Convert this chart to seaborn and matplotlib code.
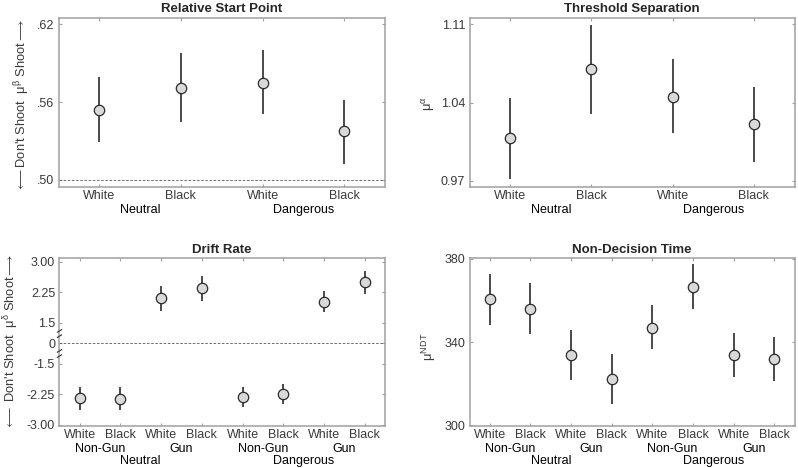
import numpy as np
import pandas as pd
import seaborn as sns
import matplotlib.pyplot as plt
import matplotlib.transforms as mtransforms
from matplotlib.path import Path

# conditions
race4 = ['White', 'Black', 'White', 'Black']
context4 = ['Neutral', 'Neutral', 'Dangerous', 'Dangerous']
race8 = ['White', 'Black'] * 4
object8 = ['Non-Gun', 'Non-Gun', 'Gun', 'Gun'] * 2
context8 = ['Neutral'] * 4 + ['Dangerous'] * 4

# relative start point (beta)
start_mean = [0.554, 0.571, 0.575, 0.538]
start_lo = [0.529, 0.545, 0.551, 0.512]
start_hi = [0.579, 0.598, 0.600, 0.562]

# threshold separation (alpha)
thresh_mean = [1.008, 1.070, 1.045, 1.021]
thresh_lo = [0.972, 1.030, 1.013, 0.987]
thresh_hi = [1.044, 1.109, 1.079, 1.054]

# drift rate (delta)
drift_mean = [-2.35, -2.36, 2.10, 2.34, -2.31, -2.24, 2.02, 2.50]
drift_lo = [-2.64, -2.64, 1.79, 2.04, -2.57, -2.50, 1.76, 2.21]
drift_hi = [-2.07, -2.07, 2.39, 2.64, -2.07, -1.99, 2.29, 2.77]

# non-decision time
ndt_mean = [360.6, 355.9, 333.7, 322.0, 346.7, 366.4, 333.7, 332.0]
ndt_lo = [348.2, 343.7, 321.8, 310.1, 336.5, 355.8, 323.0, 321.2]
ndt_hi = [372.6, 368.3, 345.8, 334.1, 357.8, 377.4, 344.2, 342.3]

start_ticks = [0.50, 0.56, 0.62]
start_ticklabels = ['.50', '.56', '.62']
thresh_ticks = [0.97, 1.04, 1.11]
thresh_ticklabels = ['0.97', '1.04', '1.11']
drift_ticks = [-3.0, -2.25, -1.5, 0, 1.5, 2.25, 3.0]
drift_ticklabels = ['-3.00', '-2.25', '-1.5', '0', '1.5', '2.25', '3.00']
ndt_ticks = [300, 340, 380]
ndt_ticklabels = ['300', '340', '380']

sns.set_theme(style='ticks')
plt.rcParams['font.family'] = ['Liberation Sans', 'DejaVu Sans']
plt.rcParams['mathtext.fontset'] = 'custom'
plt.rcParams['mathtext.rm'] = 'Liberation Sans'
plt.rcParams['mathtext.it'] = 'Liberation Sans'
plt.rcParams['mathtext.bf'] = 'Liberation Sans:bold'
plt.rcParams['mathtext.fallback'] = 'stix'

SPINE = '#a0a0a0'
TXT = '#3a3a3a'

W, H = 798, 468
fig = plt.figure(figsize=(W / 100, H / 100), dpi=100)


def px_axes(x0, y0, x1, y1):
    return fig.add_axes([x0 / W, 1 - y1 / H, (x1 - x0) / W, (y1 - y0) / H])


def drift_fwd(v):
    v = np.asarray(v, dtype=float)
    return np.where(v > 1.5, v - 1.0, np.where(v < -1.5, v + 1.0, v / 3.0))


def drift_inv(c):
    c = np.asarray(c, dtype=float)
    return np.where(c > 0.5, c + 1.0, np.where(c < -0.5, c - 1.0, c * 3.0))


def panel(ax, title, mean, lo, hi, levels, ticks, ticklabels, ylim):
    n = len(mean)
    df = pd.DataFrame({'x': np.arange(1, n + 1), 'y': mean, 'lo': lo, 'hi': hi})
    ax.vlines(df['x'], df['lo'], df['hi'], color='#2b2b2b', lw=1.2, zorder=2)
    sns.scatterplot(data=df, x='x', y='y', ax=ax, s=56, color='#d9d9d9',
                    edgecolor='#2b2b2b', linewidth=0.9, zorder=3, legend=False)
    ax.set_xlim(0.5, n + 0.5)
    ax.set_ylim(*ylim)
    ax.set_yticks(ticks)
    ax.set_yticklabels(ticklabels)
    ax.set_xticks(df['x'])
    ax.set_xticklabels(levels[0])
    ax.set_xlabel('')
    ax.set_ylabel('')
    ax.set_title(title, fontsize=9.5, fontweight='bold', pad=4)
    for s in ax.spines.values():
        s.set_visible(True)
        s.set_color(SPINE)
        s.set_linewidth(1.1)
    ax.tick_params(direction='in', length=2.5, width=0.8, color=SPINE,
                   labelsize=9, labelcolor=TXT, top=True, right=True, pad=3)
    ax.tick_params(axis='x', pad=2.5)
    trans = mtransforms.blended_transform_factory(ax.transData, ax.transAxes)
    for k, lab in enumerate(levels[1:]):
        groups = []
        for i, g in enumerate(lab):
            new = i == 0 or g != lab[i - 1]
            if k == 0 and len(levels) == 3 and i > 0 and levels[2][i] != levels[2][i - 1]:
                new = True
            if new:
                groups.append([g, [i + 1]])
            else:
                groups[-1][1].append(i + 1)
        for g, xs in groups:
            ax.annotate(g, xy=(np.mean(xs), 0), xycoords=trans,
                        xytext=(0, -16.5 - 8.5 * k), textcoords='offset points',
                        ha='center', va='center', fontsize=9, color='black',
                        annotation_clip=False)


ax1 = px_axes(58.5, 17.7, 385, 186.7)
panel(ax1, 'Relative Start Point', start_mean, start_lo, start_hi,
      [race4, context4], start_ticks, start_ticklabels, (0.4948, 0.6251))
ax1.axhline(0.50, color='#555555', lw=0.6, ls=(0, (3, 2)), zorder=1)
ax1.set_ylabel("$\\longleftarrow$Don't Shoot  $\\mu^{\\beta}$ Shoot$\\longrightarrow$",
               fontsize=9.3, color=TXT)
ax1.yaxis.set_label_coords(-0.082, 0.48)

ax2 = px_axes(469.5, 17.7, 794.5, 186.7)
panel(ax2, 'Threshold Separation', thresh_mean, thresh_lo, thresh_hi,
      [race4, context4], thresh_ticks, thresh_ticklabels, (0.9649, 1.1159))
ax2.set_ylabel('$\\mu^{\\alpha}$', fontsize=9.3, color=TXT)
ax2.yaxis.set_label_coords(-0.1, 0.49)

ax3 = px_axes(59.3, 258.3, 385, 426)
ax3.set_yscale('function', functions=(drift_fwd, drift_inv))
panel(ax3, 'Drift Rate', drift_mean, drift_lo, drift_hi,
      [race8, object8, context8], drift_ticks, drift_ticklabels, (-3.03, 3.08))
ax3.yaxis.set_minor_locator(plt.NullLocator())
ax3.axhline(0, color='#555555', lw=0.6, ls=(0, (3, 2)), zorder=1)
ax3.set_ylabel("$\\longleftarrow$ Don't Shoot  $\\mu^{\\delta}$ Shoot$\\longrightarrow$",
               fontsize=9.3, color=TXT)
ax3.yaxis.set_label_coords(-0.119, 0.5)
brk = Path([(-1, -1.6), (1, -0.4), (-1, 0.4), (1, 1.6)],
           [Path.MOVETO, Path.LINETO, Path.MOVETO, Path.LINETO])
btrans = mtransforms.blended_transform_factory(ax3.transAxes, ax3.transData)
ax3.plot([0, 0], [0.75, -0.75], transform=btrans, ls='none', marker=brk,
         ms=6, mew=0.8, mec='#333333', clip_on=False, zorder=5)

ax4 = px_axes(469.5, 258.3, 794.5, 426)
panel(ax4, 'Non-Decision Time', ndt_mean, ndt_lo, ndt_hi,
      [race8, object8, context8], ndt_ticks, ndt_ticklabels, (299.6, 380.3))
ax4.set_ylabel('$\\mu^{\\mathrm{NDT}}$', fontsize=9.3, color=TXT)
ax4.yaxis.set_label_coords(-0.098, 0.47)

fig.savefig('out.png', dpi=100)
